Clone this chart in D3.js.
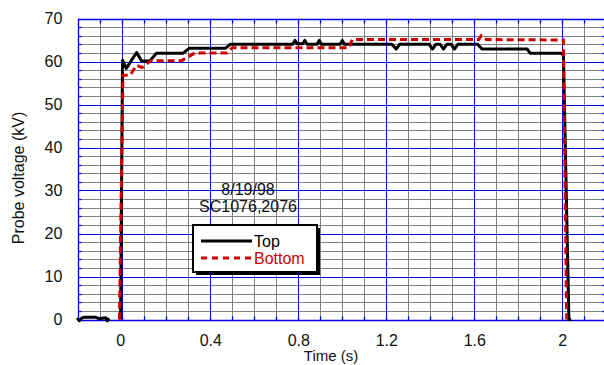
<!DOCTYPE html>
<html><head><meta charset="utf-8">
<script src="https://cdn.jsdelivr.net/npm/d3@7"></script>
<style>
html,body{margin:0;padding:0;background:#fff;}
svg text{font-family:"Liberation Sans",Arial,sans-serif;}
</style></head>
<body><svg id="c" width="604" height="365"></svg>
<script>
// ---- data ----
const xTickLabels = [0, 0.4, 0.8, 1.2, 1.6, 2];
const yTickLabels = [0, 10, 20, 30, 40, 50, 60, 70];
const seriesNames = ["Top", "Bottom"];
const annotation = ["8/19/98", "SC1076,2076"];

const topTime = [-0.205,-0.195,-0.185,-0.175,-0.12,-0.105,-0.075,-0.068,-0.06, null,
  -0.008,0.001,0.018,0.065,0.088,0.125,0.155,0.275,0.305,0.47,0.49,0.775,0.785,0.795,0.82,0.83,0.84,0.885,0.895,0.905,0.99,1.0,1.01,
  1.225,1.245,1.26,1.395,1.41,1.425,1.445,1.46,1.475,1.495,1.51,1.525,1.615,1.635,1.84,1.855,1.995,2.005,2.03,2.04];
const topKV = [0.4,-0.3,0.3,0.5,0.5,0.2,0.4,-0.3,0.3, null,
  0,60.3,58.4,62.1,60.1,60.1,61.9,61.9,63.1,63.1,64.0,64.0,64.9,64.1,64.1,64.9,64.0,64.0,64.9,64.0,64.0,64.9,64.0,
  64.0,62.9,64.0,64.0,62.9,64.0,64.0,62.9,64.0,64.0,62.9,64.0,64.0,62.9,62.9,61.9,61.9,61.5,0,0];

const bottomTime = [-0.013,0.003,0.035,0.065,0.09,0.13,0.27,0.33,0.475,0.5,1.03,1.045,1.62,1.632,1.655,2.005,2.02];
const bottomKV = [0,56.8,56.8,59.1,58.6,60.2,60.2,62.0,62.0,63.2,63.2,65.1,65.1,66.0,65.1,65.0,0];

// ---- chart ----
const svg = d3.select("#c");
const x = d3.scaleLinear().domain([-0.2, 2.2]).range([78.3, 606.3]);
const y = d3.scaleLinear().domain([0, 70]).range([319.5, 18.5]);
const px = v => Math.round(x(v)) + 0.5;
const py = v => Math.round(y(v)) + 0.5;
const BLUE = "#0000e6", GRAY = "#808080", RED = "#cc0000";

const minorX = d3.range(-1, 22).map(i => i / 10).filter(v => Math.abs(v / 0.4 - Math.round(v / 0.4)) > 1e-6);
const majorX = d3.range(0, 2.21, 0.4);
const minorY = d3.range(2, 70, 2).filter(v => v % 10 !== 0);
const majorY = d3.range(10, 71, 10);

const g = svg.append("g");
// gray grid
g.selectAll(".gx").data(minorX).join("line")
  .attr("x1", d => px(d)).attr("x2", d => px(d)).attr("y1", y(70)).attr("y2", y(0))
  .attr("stroke", GRAY).attr("stroke-width", 1);
g.selectAll(".gy").data(minorY).join("line")
  .attr("x1", x(-0.2)).attr("x2", x(2.2)).attr("y1", d => py(d)).attr("y2", d => py(d))
  .attr("stroke", GRAY).attr("stroke-width", 1);
// blue grid
g.selectAll(".bx").data(majorX).join("line")
  .attr("x1", d => px(d)).attr("x2", d => px(d)).attr("y1", y(70)).attr("y2", y(0))
  .attr("stroke", BLUE).attr("stroke-width", 1);
g.selectAll(".by").data(majorY).join("line")
  .attr("x1", x(-0.2)).attr("x2", x(2.2)).attr("y1", d => py(d)).attr("y2", d => py(d))
  .attr("stroke", BLUE).attr("stroke-width", 1);
// frame
g.append("line").attr("x1", px(-0.2)).attr("x2", px(-0.2)).attr("y1", y(70)).attr("y2", y(0) + 1).attr("stroke", BLUE).attr("stroke-width", 1.3);
g.append("line").attr("x1", x(-0.2)).attr("x2", x(2.2)).attr("y1", py(0)).attr("y2", py(0)).attr("stroke", BLUE).attr("stroke-width", 1.3);
g.append("line").attr("x1", x(-0.2)).attr("x2", x(2.2)).attr("y1", py(70)).attr("y2", py(70)).attr("stroke", BLUE).attr("stroke-width", 1.3);
g.append("line").attr("x1", px(2.2)).attr("x2", px(2.2)).attr("y1", y(70)).attr("y2", y(0)).attr("stroke", BLUE).attr("stroke-width", 1.3);
// inward ticks
const allX = d3.range(-1, 22).map(i => i / 10);
const allY = d3.range(2, 70, 2);
g.selectAll(".tb").data(allX).join("line")
  .attr("x1", d => px(d)).attr("x2", d => px(d)).attr("y1", py(0)).attr("y2", py(0) - 4).attr("stroke", BLUE).attr("stroke-width", 1.3);
g.selectAll(".tt").data(allX).join("line")
  .attr("x1", d => px(d)).attr("x2", d => px(d)).attr("y1", py(70)).attr("y2", py(70) + 4).attr("stroke", BLUE).attr("stroke-width", 1.3);
g.selectAll(".tl").data(allY).join("line")
  .attr("x1", px(-0.2)).attr("x2", px(-0.2) + 3).attr("y1", d => py(d)).attr("y2", d => py(d)).attr("stroke", BLUE).attr("stroke-width", 1.3);
g.selectAll(".tr").data(allY).join("line")
  .attr("x1", px(2.2)).attr("x2", px(2.2) - 4).attr("y1", d => py(d)).attr("y2", d => py(d)).attr("stroke", BLUE).attr("stroke-width", 1.3);

// axes labels via d3 axes
const ax = svg.append("g").attr("transform", `translate(0,${y(0)})`)
  .call(d3.axisBottom(x).tickValues(xTickLabels).tickSize(0).tickPadding(15).tickFormat(d3.format("")));
ax.select(".domain").remove();
ax.selectAll("text").attr("font-size", 16).attr("font-family", "Liberation Sans, Arial, sans-serif").attr("fill", "#111")
  .attr("dx", d => d === 0 ? -2 : 0);
const ay = svg.append("g").attr("transform", `translate(${x(-0.2)},0)`)
  .call(d3.axisLeft(y).tickValues(yTickLabels).tickSize(0).tickPadding(16));
ay.select(".domain").remove();
ay.selectAll("text").attr("font-size", 16).attr("font-family", "Liberation Sans, Arial, sans-serif").attr("fill", "#111");

svg.append("text").attr("x", 331).attr("y", 361).attr("text-anchor", "middle")
  .attr("font-size", 15).attr("fill", "#111").text("Time (s)");
svg.append("text").attr("transform", "translate(24,178) rotate(-90)").attr("text-anchor", "middle")
  .attr("font-size", 16).attr("fill", "#111").text("Probe voltage (kV)");

// annotation
svg.selectAll(".ann").data(annotation).join("text")
  .attr("x", 248).attr("y", (d, i) => 195 + i * 17).attr("text-anchor", "middle")
  .attr("font-size", 16).attr("fill", "#111").text(d => d);

// data lines
const topData = topTime.map((t, i) => ({t, v: topKV[i]}));
const botData = bottomTime.map((t, i) => ({t, v: bottomKV[i]}));
const line = d3.line().defined(d => d.t !== null && d.v !== null).x(d => x(d.t)).y(d => y(d.v));
svg.append("path").datum(topData).attr("d", line).attr("fill", "none")
  .attr("stroke", "#000").attr("stroke-width", 3).attr("stroke-linejoin", "round");
svg.append("path").datum(botData).attr("d", line).attr("fill", "none")
  .attr("stroke", RED).attr("stroke-width", 3).attr("stroke-dasharray", "7,4");

// legend
const lg = svg.append("g");
lg.append("rect").attr("x", 196).attr("y", 228).attr("width", 124).attr("height", 47).attr("fill", "#000");
lg.append("rect").attr("x", 193).attr("y", 225).attr("width", 124).attr("height", 47)
  .attr("fill", "#fff").attr("stroke", "#000").attr("stroke-width", 2);
const colors = ["#000", RED];
seriesNames.forEach((n, i) => {
  const yy = 241 + i * 17;
  lg.append("line").attr("x1", 201).attr("x2", 252).attr("y1", yy).attr("y2", yy)
    .attr("stroke", colors[i]).attr("stroke-width", 3).attr("stroke-dasharray", i ? "6,5" : null);
  lg.append("text").attr("x", 254).attr("y", yy + 6).attr("font-size", 16).attr("fill", colors[i]).text(n);
});
</script></body></html>
